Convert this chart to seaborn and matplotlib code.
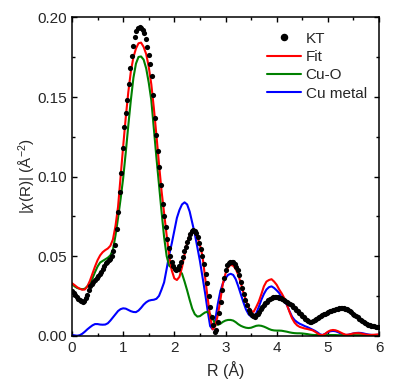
import numpy as np
import pandas as pd
import matplotlib
matplotlib.use("Agg")
import matplotlib.pyplot as plt
from matplotlib.ticker import MultipleLocator, FormatStrFormatter
from matplotlib.lines import Line2D
import seaborn as sns

# ---- data ----
kt_step = 0.03
kt_vals = [
    0.028, 0.0268, 0.0255, 0.0243, 0.0232, 0.0223, 0.0217, 0.0214, 0.0218, 0.0234,
    0.0258, 0.0285, 0.031, 0.0326, 0.0338, 0.0349, 0.036, 0.0373, 0.0385, 0.040,
    0.042, 0.044, 0.0455, 0.0466, 0.0474, 0.0482, 0.050, 0.053, 0.057, 0.067,
    0.078, 0.090, 0.102, 0.118, 0.131, 0.140, 0.148, 0.158, 0.168, 0.176,
    0.182, 0.1875, 0.1912, 0.1932, 0.1938, 0.1936, 0.1924, 0.1902, 0.1865, 0.1815,
    0.1765, 0.171, 0.163, 0.151, 0.137, 0.126, 0.116, 0.106, 0.095, 0.083,
    0.075, 0.068, 0.061, 0.055, 0.050, 0.0466, 0.0437, 0.042, 0.0415, 0.042,
    0.0435, 0.046, 0.0495, 0.053, 0.056, 0.059, 0.0615, 0.0637, 0.0655, 0.0665,
    0.066, 0.0645, 0.062, 0.0585, 0.0545, 0.050, 0.045, 0.039, 0.033, 0.025,
    0.018, 0.012, 0.0065, 0.0025, 0.0035, 0.0085, 0.014, 0.021, 0.029, 0.036,
    0.041, 0.0445, 0.0458, 0.0465, 0.0466, 0.046, 0.045, 0.043, 0.041, 0.038,
    0.034, 0.030, 0.026, 0.0225, 0.019, 0.016, 0.0145, 0.0132, 0.0122, 0.012,
    0.0127, 0.0138, 0.0152, 0.0165, 0.018, 0.0192, 0.0203, 0.0214, 0.0224, 0.0232,
    0.0238, 0.0242, 0.0244, 0.0244, 0.0242, 0.0239, 0.0235, 0.0231, 0.0226, 0.022,
    0.0214, 0.0207, 0.020, 0.0192, 0.0183, 0.0174, 0.0164, 0.0154, 0.0144, 0.0135,
    0.0126, 0.0117, 0.0108, 0.0100, 0.0093, 0.0089, 0.0088, 0.0091, 0.0097, 0.0104,
    0.011, 0.0116, 0.0122, 0.0128, 0.0134, 0.0139, 0.0144, 0.0149, 0.0153, 0.0157,
    0.0161, 0.0164, 0.0167, 0.0169, 0.0171, 0.0172, 0.0172, 0.0171, 0.0169, 0.0165,
    0.016, 0.0154, 0.0147, 0.0139, 0.0131, 0.0123, 0.0115, 0.0107, 0.0099, 0.0092,
    0.0086, 0.008, 0.0075, 0.007, 0.0066, 0.0063, 0.006, 0.0058, 0.0056, 0.0055,
    0.0054,
]

line_step = 0.05
fit_vals = [
    0.033, 0.0318, 0.0305, 0.0295, 0.0289, 0.029, 0.031, 0.0345, 0.039, 0.0435,
    0.0475, 0.0505, 0.0525, 0.0538, 0.0548, 0.0565, 0.0605, 0.069, 0.081, 0.100,
    0.119, 0.137, 0.153, 0.166, 0.175, 0.1805, 0.1838, 0.1842, 0.1815, 0.177,
    0.169, 0.158, 0.143, 0.126, 0.108, 0.091, 0.077, 0.063, 0.050, 0.041,
    0.036, 0.035, 0.037, 0.043, 0.051, 0.058, 0.063, 0.065, 0.0648, 0.062,
    0.057, 0.050, 0.037, 0.024, 0.012, 0.004, 0.006, 0.013, 0.0225, 0.033,
    0.039, 0.043, 0.0445, 0.044, 0.042, 0.038, 0.033, 0.027, 0.022, 0.018,
    0.0155, 0.015, 0.018, 0.0214, 0.026, 0.031, 0.034, 0.035, 0.0355, 0.034,
    0.032, 0.029, 0.0265, 0.0235, 0.0195, 0.015, 0.011, 0.0082, 0.0065, 0.0055,
    0.005, 0.0045, 0.0042, 0.0038, 0.0034, 0.0025, 0.0014, 0.0005, 0.0004, 0.0012,
    0.0025, 0.0033, 0.0036, 0.0034, 0.0028, 0.002, 0.0012, 0.0006, 0.0006, 0.001,
    0.0014, 0.0016, 0.0016, 0.0014, 0.001, 0.0007, 0.0005, 0.0005, 0.0006, 0.0007,
    0.0008,
]
cuo_vals = [
    0.0325, 0.031, 0.030, 0.0295, 0.0292, 0.0295, 0.031, 0.033, 0.036, 0.040,
    0.0435, 0.046, 0.047, 0.048, 0.049, 0.0505, 0.054, 0.063, 0.074, 0.086,
    0.099, 0.115, 0.132, 0.148, 0.162, 0.171, 0.1752, 0.1755, 0.1735, 0.168,
    0.159, 0.148, 0.130, 0.112, 0.095, 0.078, 0.062, 0.050, 0.044, 0.0425,
    0.042, 0.0422, 0.041, 0.039, 0.034, 0.0285, 0.0225, 0.017, 0.0135, 0.012,
    0.0123, 0.0135, 0.0146, 0.015, 0.0135, 0.0105, 0.0075, 0.0068, 0.0075, 0.0087,
    0.0095, 0.0099, 0.0099, 0.0095, 0.0085, 0.0072, 0.0062, 0.0055, 0.005, 0.0048,
    0.005, 0.0056, 0.0062, 0.0064, 0.0062, 0.0057, 0.005, 0.0042, 0.0036, 0.0033,
    0.0032, 0.0032, 0.0031, 0.0028, 0.0025, 0.0021, 0.0018, 0.0016, 0.0015, 0.0015,
    0.0014, 0.0012, 0.001, 0.0007, 0.0005, 0.0004, 0.0004, 0.0004, 0.0004, 0.0004,
    0.0004, 0.0004, 0.0004, 0.0004, 0.0003, 0.0003, 0.0003, 0.0003, 0.0003, 0.0003,
    0.0003, 0.0003, 0.0003, 0.0003, 0.0003, 0.0003, 0.0003, 0.0003, 0.0003, 0.0003,
    0.0003,
]
cu_vals = [
    0.0005, 0.0002, 0.0, 0.0003, 0.0012, 0.0025, 0.004, 0.0053, 0.0065, 0.0073,
    0.0073, 0.007, 0.0069, 0.007, 0.0078, 0.0095, 0.0115, 0.0135, 0.0155, 0.0167,
    0.0172, 0.017, 0.0162, 0.0154, 0.0149, 0.0148, 0.0158, 0.0175, 0.0195, 0.021,
    0.022, 0.0224, 0.0226, 0.0232, 0.025, 0.029, 0.0335, 0.042, 0.051, 0.058,
    0.066, 0.074, 0.079, 0.0825, 0.0838, 0.0825, 0.078, 0.071, 0.064, 0.0555,
    0.047, 0.037, 0.027, 0.016, 0.006, 0.004, 0.010, 0.020, 0.028, 0.033,
    0.036, 0.0382, 0.0389, 0.0382, 0.0355, 0.031, 0.026, 0.021, 0.0165, 0.0135,
    0.012, 0.0118, 0.014, 0.018, 0.0225, 0.0262, 0.029, 0.0305, 0.031, 0.030,
    0.0285, 0.0268, 0.024, 0.0215, 0.0193, 0.0155, 0.012, 0.0098, 0.0085, 0.0075,
    0.0068, 0.006, 0.0054, 0.0046, 0.0038, 0.003, 0.002, 0.0008, 0.0004, 0.0012,
    0.0022, 0.0028, 0.003, 0.0028, 0.0022, 0.0014, 0.0007, 0.0004, 0.0006, 0.001,
    0.0014, 0.0017, 0.0018, 0.0017, 0.0014, 0.001, 0.0007, 0.0005, 0.0004, 0.0005,
    0.0006,
]

x_ticks = [0, 1, 2, 3, 4, 5, 6]
y_ticks = [0.00, 0.05, 0.10, 0.15, 0.20]

r_kt = np.round(np.arange(len(kt_vals)) * kt_step, 3)
r_line = np.round(np.arange(len(fit_vals)) * line_step, 3)

df_kt = pd.DataFrame({"R": r_kt, "chi": kt_vals})
df_lines = pd.concat([
    pd.DataFrame({"R": r_line, "chi": fit_vals, "series": "Fit"}),
    pd.DataFrame({"R": r_line, "chi": cuo_vals, "series": "Cu-O"}),
    pd.DataFrame({"R": r_line, "chi": cu_vals, "series": "Cu metal"}),
])

# ---- style ----
sns.set_style("ticks")
plt.rcParams["font.family"] = ["Liberation Sans", "DejaVu Sans"]
plt.rcParams["mathtext.fontset"] = "custom"
plt.rcParams["mathtext.rm"] = "Liberation Sans"
plt.rcParams["mathtext.it"] = "Liberation Sans:italic"

fig = plt.figure(figsize=(4.0, 3.87), dpi=100)
ax = fig.add_axes([0.18, 0.1326, 0.7675, 0.8222])

palette = {"Fit": "#ff0000", "Cu-O": "#008000", "Cu metal": "#0000ff"}
sns.lineplot(data=df_lines, x="R", y="chi", hue="series", palette=palette,
             hue_order=["Cu metal", "Cu-O", "Fit"], linewidth=1.5,
             legend=False, ax=ax, zorder=2, sort=False)
sns.scatterplot(data=df_kt, x="R", y="chi", color="black", s=14,
                linewidth=0, legend=False, ax=ax, zorder=3)

ax.set_xlim(0, 6)
ax.set_ylim(0, 0.20)
ax.set_xticks(x_ticks)
ax.set_yticks(y_ticks)
ax.xaxis.set_minor_locator(MultipleLocator(0.5))
ax.yaxis.set_minor_locator(MultipleLocator(0.025))
ax.yaxis.set_major_formatter(FormatStrFormatter("%.2f"))
ax.tick_params(which="both", direction="in", top=True, right=True,
               color="black", labelsize=11, width=1.0)
ax.tick_params(which="major", length=3.5, pad=3.5)
ax.tick_params(which="minor", length=2.3)
for sp in ax.spines.values():
    sp.set_linewidth(1.1)
    sp.set_color("black")

ax.set_xlabel("R (Å)", fontsize=11.5, labelpad=5)
ax.set_ylabel(r"|$\chi$(R)| (Å$^{-2}$)", fontsize=11)
ax.yaxis.set_label_coords(-0.112, 0.5)

handles = [
    Line2D([], [], marker="o", linestyle="", color="black", markersize=4.4),
    Line2D([], [], color="#ff0000", linewidth=1.5),
    Line2D([], [], color="#008000", linewidth=1.5),
    Line2D([], [], color="#0000ff", linewidth=1.5),
]
ax.legend(handles, ["KT", "Fit", "Cu-O", "Cu metal"], loc="upper right",
          bbox_to_anchor=(0.96, 0.955), frameon=False, fontsize=11,
          handlelength=2.2, handletextpad=0.3, labelspacing=0.28,
          borderpad=0, borderaxespad=0)

fig.savefig("out.png", dpi=100)
